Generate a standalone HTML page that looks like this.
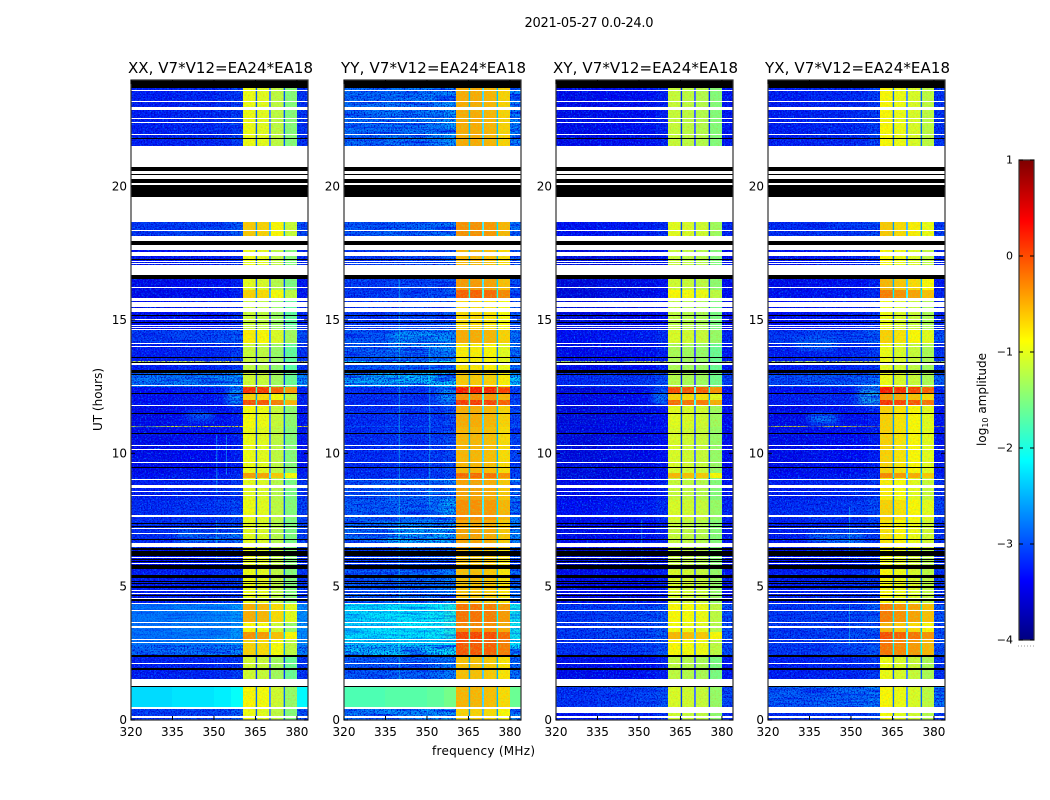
<!DOCTYPE html>
<html lang="en">
<head>
<meta charset="utf-8">
<title>2021-05-27 0.0-24.0</title>
<style>
html,body{margin:0;padding:0;background:#fff;}
#chart{display:block;width:1050px;height:800px;font-family:"DejaVu Sans","Liberation Sans",sans-serif;fill:#000;}
</style>
</head>
<body>
<svg id="chart" xmlns="http://www.w3.org/2000/svg" width="1050" height="800" viewBox="0 0 1050 800">
<defs>
<filter id="speckle-light" x="0" y="0" width="100%" height="100%" color-interpolation-filters="sRGB">
<feTurbulence type="fractalNoise" baseFrequency="0.62" numOctaves="2" seed="4"/>
<feColorMatrix type="matrix" values="0 0 0 0 0  0 0 0 0 0.55  0 0 0 0 1  2.4 0 0 0 -1.15"/>
</filter>
<filter id="speckle-dark" x="0" y="0" width="100%" height="100%" color-interpolation-filters="sRGB">
<feTurbulence type="fractalNoise" baseFrequency="0.7" numOctaves="2" seed="11"/>
<feColorMatrix type="matrix" values="0 0 0 0 0  0 0 0 0 0  0 0 0 0 0.75  0 3 0 0 -1.3"/>
</filter>
<filter id="speckle-streak" x="0" y="0" width="100%" height="100%" color-interpolation-filters="sRGB">
<feTurbulence type="fractalNoise" baseFrequency="0.03 0.55" numOctaves="2" seed="23"/>
<feColorMatrix type="matrix" values="0 0 0 0 0  0 0 0 0 0.1  0 0 0 0 0.95  2.6 0 0 0 -1.2"/>
</filter>
<filter id="speckle-hot" x="0" y="0" width="100%" height="100%" color-interpolation-filters="sRGB">
<feTurbulence type="fractalNoise" baseFrequency="0.6" numOctaves="2" seed="7"/>
<feColorMatrix type="matrix" values="0 0 0 0 1  0 0 0 0 0.5  0 0 0 0 0  2.2 0 0 0 -1.0"/>
</filter>
<filter id="speckle-cool" x="0" y="0" width="100%" height="100%" color-interpolation-filters="sRGB">
<feTurbulence type="fractalNoise" baseFrequency="0.55" numOctaves="2" seed="31"/>
<feColorMatrix type="matrix" values="0 0 0 0 0.45  0 0 0 0 1  0 0 0 0 0.4  0 2.4 0 0 -1.05"/>
</filter>
<filter id="soft-blob" x="-30%" y="-60%" width="160%" height="220%">
<feGaussianBlur stdDeviation="4 3"/>
</filter>
</defs>
<text x="589" y="27" font-size="13" text-anchor="middle" textLength="129">2021-05-27 0.0-24.0</text>
<text x="483.5" y="755" font-size="12" text-anchor="middle" textLength="103">frequency (MHz)</text>
<text transform="translate(102,399.5) rotate(-90)" font-size="12" text-anchor="middle">UT (hours)</text>
<text transform="translate(986,399.5) rotate(-90)" font-size="12" text-anchor="middle">log<tspan font-size="8" dy="2">10</tspan><tspan dy="-2"> amplitude</tspan></text>
<g id="panels"></g>
<g id="colorbar"></g>
</svg>
<script>
/* ---- chart data (hours UT, MHz, log10 amplitude) ---- */
const panelNames = ["XX, V7*V12=EA24*EA18","YY, V7*V12=EA24*EA18","XY, V7*V12=EA24*EA18","YX, V7*V12=EA24*EA18"];
const xTicks = [320,335,350,365,380];
const yTicks = [0,5,10,15,20];
const colorbarTicks = [1,0,-1,-2,-3,-4];

/* time regions: start and end hour, then background and band level for each polarisation */
const regionEnd   = [23.7,18.675,18.075,16.54,16.125,15.825,14.625,14.14,13.48,13.44,13.125,12.49,12.225,12.0,11.81,11.04,10.99,9.26,9.075,8.25,7.5,6.45,5.625,4.39,3.675,3.3,3.0,2.44,1.24,0.45];
const regionStart = [21.525,18.075,17.06,16.125,15.825,14.625,14.14,13.48,13.44,13.125,12.49,12.225,12.0,11.81,11.04,10.99,9.26,9.075,8.25,7.5,6.45,5.625,4.39,3.675,3.3,3.0,2.44,1.5,0.45,0];
const bgXX = [-3.25,-3.05,-3.35,-3.45,-3.45,-3.35,-3.05,-3.25,-1.1,-3.25,-2.7,-3.35,-3.35,-3.35,-3.45,-1.0,-3.45,-3.35,-3.25,-3.15,-3.15,-3.35,-3.25,-2.75,-2.75,-2.75,-2.75,-3.25,-2.3,-3.05];
const bgYY = [-2.75,-2.85,-3.05,-3.05,-3.05,-3.05,-2.85,-2.85,-2.2,-2.85,-2.4,-3.15,-3.15,-3.15,-3.15,-2.9,-3.15,-3.15,-2.85,-2.85,-2.75,-3.05,-2.85,-2.2,-2.2,-2.2,-2.3,-2.85,-1.75,-2.65];
const bgXY = [-3.45,-3.35,-3.55,-3.55,-3.55,-3.55,-3.35,-3.45,-1.2,-3.45,-3.15,-3.55,-3.45,-3.45,-3.55,-3.35,-3.55,-3.55,-3.45,-3.35,-3.45,-3.65,-3.45,-3.05,-3.05,-3.05,-3.1,-3.45,-3.1,-3.35];
const bgYX = [-3.25,-3.15,-3.35,-3.45,-3.35,-3.35,-3.05,-3.25,-1.2,-3.25,-2.95,-3.35,-3.25,-3.25,-3.45,-0.8,-3.45,-3.35,-3.25,-3.15,-3.25,-3.35,-3.25,-3.05,-3.05,-3.05,-3.05,-3.25,-2.85,-3.15];
const hiXX = [-1.05,-0.7,-1.05,-1.1,-0.75,-1.25,-0.9,-1.25,-1.25,-1.3,-1.2,0.1,-0.75,-0.05,-1.0,-1.0,-1.05,-0.45,-1.1,-1.05,-1.1,-1.05,-1.05,-0.55,-0.95,-0.4,-0.75,-1.2,-0.95,-1.05];
const hiYY = [-0.5,-0.35,-0.55,-0.4,-0.1,-0.75,-0.5,-0.85,-0.85,-0.8,-0.65,0.25,-0.35,0.1,-0.5,-0.5,-0.55,-0.15,-0.45,-0.35,-0.45,-0.6,-0.6,-0.2,-0.3,0.05,-0.05,-0.6,-0.55,-0.7];
const hiXY = [-1.25,-1.1,-1.25,-1.2,-0.95,-1.3,-1.15,-1.4,-1.4,-1.4,-1.35,-0.05,-0.75,-0.2,-1.1,-1.1,-1.15,-0.6,-1.25,-1.15,-1.25,-1.25,-1.15,-0.95,-1.0,-0.6,-0.95,-1.3,-1.15,-1.2];
const hiYX = [-0.95,-0.7,-0.95,-0.6,-0.3,-1.05,-0.75,-1.05,-1.05,-1.1,-1.05,0.2,-0.45,0.1,-0.75,-0.75,-0.75,-0.35,-0.9,-0.75,-0.85,-1.0,-0.95,-0.3,-0.6,-0.05,-0.25,-1.05,-0.95,-1.0];

/* frequency segments: edges plus an offset or band index for each */
const freqEdges = [320,335,350,356,360.5,365.1,365.6,370,370.5,375.2,375.7,380,384];
const segmentType = ["bg","bg","bg","bg","hi","gap","hi","gap","hi","gap","hi","edge"];
const bgOffsets = [0,0.05,0.1,0.2];
const hiOffsetsXX = [0.1,0.05,-0.15,-0.45];
const hiOffsetsYY = [0.05,0.05,0,-0.15];
const hiOffsetsXY = [0.1,0.05,0,-0.25];
const hiOffsetsYX = [0.1,0,-0.1,-0.25];

/* narrow-band interference: panel index, frequency, start hour, end hour */
const rfiLines = [[1,340,1.5,16.5],[1,351,8,14],[0,351,8.5,10.7],[0,354.5,9.2,10.7],[0,351,6,7.5],[2,351,6,7.5],[3,349.5,6,8],[3,349.5,2.8,4.4]];

/* brighter patches: panel index, start MHz, end MHz, start hour, end hour, level */
const patchPanel = [0,1,2,3,1,1,0,3,1,3,3,0];
const patchFreqStart = [355,354,355,353,337,355,337,335,335,330,335,340];
const patchFreqEnd = [361,361,361,361,359,361,361,355,358,345,345,350];
const patchHourStart = [11.8,11.9,11.8,11.8,13.9,7.8,6.5,6.5,6.5,13.9,11.1,11.2];
const patchHourEnd = [12.5,12.5,12.5,12.5,14.6,8.3,7.1,7.1,7.3,14.3,11.5,11.6];
const patchLevel = [-2.2,-2.4,-2.5,-2.0,-2.4,-2.2,-2.6,-2.6,-2.3,-2.6,-2.4,-2.7];

/* speckle coverage for each polarisation: start hour, end hour, strength */
const speckleXX = [[4.39,23.7,1],[2.81,4.39,0.45],[1.24,2.81,1],[0,0.45,1]];
const speckleYY = [[4.39,23.7,1],[2.81,4.39,0.45],[1.24,2.81,1],[0,0.45,1]];
const speckleXY = [[0,23.7,1]];
const speckleYX = [[0,23.7,1]];

/* flagged / missing time ranges [start hour, end hour] */
const blackRanges = [[23.7,24],[21.8,21.84],[20.59,20.74],[20.46,20.49],[19.61,20.29],[17.81,17.96],[17.25,17.28],[16.54,16.69],[15.17,15.2],[14.91,14.94],[13.6,13.63],[13.41,13.44],[13.01,13.125],[12.96,12.99],[12.25,12.28],[11.5,11.53],[10.75,10.78],[9.47,9.5],[7.37,7.4],[7.26,7.29],[6.77,6.8],[6.375,6.45],[6.15,6.34],[6.02,6.05],[5.93,5.96],[5.66,5.81],[5.325,5.44],[5.2,5.23],[5.1,5.13],[5.01,5.04],[4.94,4.97],[4.64,4.67],[4.46,4.54],[2.36,2.44],[1.89,1.95],[1.24,1.275]];
const whiteRanges = [[23.59,23.625],[23.175,23.21],[22.875,22.99],[22.54,22.575],[22.39,22.425],[21.94,21.975],[20.74,21.54],[20.29,20.45],[20.49,20.59],[20.08,20.12],[18.675,19.61],[18.32,18.36],[17.96,18.15],[17.625,17.81],[17.4,17.55],[17.175,17.21],[17.1,17.14],[16.69,17.06],[16.2,16.24],[15.71,15.825],[15.49,15.675],[15.3,15.45],[15.0,15.04],[14.79,14.83],[14.7,14.74],[14.625,14.665],[14.11,14.15],[14.0,14.04],[13.33,13.37],[12.51,12.55],[11.79,11.83],[10.3,10.33],[10.15,10.18],[9.66,9.69],[9.02,9.05],[8.7,8.81],[8.54,8.57],[8.39,8.42],[7.63,7.67],[7.15,7.19],[7.0,7.03],[6.49,6.64],[6.1,6.13],[5.87,5.9],[4.86,4.89],[4.75,4.78],[4.56,4.59],[4.37,4.4],[4.11,4.14],[3.66,3.69],[3.51,3.54],[3.44,3.47],[3.02,3.05],[2.91,2.94],[2.09,2.12],[1.275,1.54],[0.43,0.47],[0.075,0.15]];
const crossPolWhiteRanges = [[0.27,0.42]];

/* ---- drawing ---- */
const NS = "http://www.w3.org/2000/svg";
const panelLeft = [131,344,556,768];
const panelWidth = 177;
const plotTop = 80, plotHeight = 640;
const bgSeries = [bgXX,bgYY,bgXY,bgYX];
const hiSeries = [hiXX,hiYY,hiXY,hiYX];
const hiOffsets = [hiOffsetsXX,hiOffsetsYY,hiOffsetsXY,hiOffsetsYX];
const speckleSpans = [speckleXX,speckleYY,speckleXY,speckleYX];

function xScale(p,f){return panelLeft[p]+(f-320)/64*panelWidth;}
function yScale(h){return plotTop+(24-h)/24*plotHeight;}
function jet(v){
  const t=Math.max(0,Math.min(1,(v+4)/5));
  const ch=c=>Math.round(255*Math.max(0,Math.min(1,1.5-Math.abs(4*t-c))));
  return "rgb("+ch(3)+","+ch(2)+","+ch(1)+")";
}
function make(tag,attrs,parent){
  const el=document.createElementNS(NS,tag);
  for(const k in attrs){el.setAttribute(k,attrs[k]);}
  parent.appendChild(el);
  return el;
}
const root=document.getElementById("panels");

panelNames.forEach((name,p)=>{
  const g=make("g",{},root);
  
  

  /* heatmap cells, one pass per group of frequency segments */
  const drawCells=(kinds)=>{
    regionStart.forEach((start,r)=>{
      const end=regionEnd[r];
      segmentType.forEach((kind,s)=>{
        if(!kinds.includes(kind)){return;}
        let v;
        if(kind==="bg"){v=bgSeries[p][r]+bgOffsets[s];}
        else if(kind==="hi"){v=hiSeries[p][r]+hiOffsets[p][(s-4)/2];}
        else if(kind==="gap"){v=hiSeries[p][r]-1.9;}
        else{v=bgSeries[p][r]+0.15;}
        const y0=Math.round(yScale(end)),y1=Math.round(yScale(start));
        let x0,x1,attrs;
        if(kind==="gap"){
          /* thin gaps keep their exact position so each one stays visible */
          x0=xScale(p,freqEdges[s]);x1=xScale(p,freqEdges[s+1]);
          attrs={x:x0,y:y0,width:x1-x0,height:Math.max(1,y1-y0),fill:jet(v)};
        }else{
          x0=Math.round(xScale(p,freqEdges[s]));x1=Math.round(xScale(p,freqEdges[s+1]));
          attrs={x:x0,y:y0,width:Math.max(1,x1-x0),height:Math.max(1,y1-y0),fill:jet(v),"shape-rendering":"crispEdges"};
        }
        const cell=make("rect",attrs,g);
        
        
      });
    });
  };
  drawCells(["bg","edge"]);

  /* broad brighter patches */
  patchPanel.forEach((owner,i)=>{
    if(owner!==p){return;}
    const x0=xScale(p,patchFreqStart[i]),x1=xScale(p,patchFreqEnd[i]);
    const y0=yScale(patchHourEnd[i]),y1=yScale(patchHourStart[i]);
    const patch=make("rect",{x:x0,y:y0,width:x1-x0,height:y1-y0,fill:jet(patchLevel[i]),opacity:0.7,filter:"url(#soft-blob)"},g);
    
    
  });

  /* channel speckle on the out-of-band part of the spectrum */
  speckleSpans[p].forEach(span=>{
    [[320,360.5],[380,384]].forEach(range=>{
      ["speckle-streak","speckle-light","speckle-dark"].forEach(f=>{
        const x0=xScale(p,range[0]),x1=xScale(p,range[1]);
        const sp=make("rect",{x:x0,y:yScale(span[1]),width:x1-x0,height:yScale(span[0])-yScale(span[1]),filter:"url(#"+f+")",opacity:span[2]},g);
        
        
      });
    });
  });

  drawCells(["hi"]);

  /* texture on the four bright columns only */
  segmentType.forEach((kind,s)=>{
    if(kind!=="hi"){return;}
    const x0=xScale(p,freqEdges[s]),x1=xScale(p,freqEdges[s+1]);
    [["speckle-hot",0.35],["speckle-cool",0.4]].forEach(tex=>{
      const hot=make("rect",{x:x0,y:yScale(23.7),width:x1-x0,height:yScale(0)-yScale(23.7),filter:"url(#"+tex[0]+")",opacity:tex[1]},g);
      
      
    });
  });

  drawCells(["gap"]);

  /* narrow-band interference */
  rfiLines.filter(l=>l[0]===p).forEach(l=>{
    const x=xScale(p,l[1]);
    const line=make("line",{x1:x,x2:x,y1:yScale(l[3]),y2:yScale(l[2]),stroke:"#19e6e6","stroke-width":1,opacity:0.45},g);
    
    
  });

  /* flagged rows */
  const addFlag=(range,color,label)=>{
    const y0=Math.round(yScale(range[1])),y1=Math.round(yScale(range[0]));
    const flag=make("rect",{x:panelLeft[p],y:y0,width:panelWidth,height:Math.max(1,y1-y0),fill:color,"shape-rendering":"crispEdges"},g);
    
    
  };
  blackRanges.forEach(r=>addFlag(r,"#000","no-data-row"));
  whiteRanges.forEach(r=>addFlag(r,"#fff","flagged-row"));
  if(p>=2){crossPolWhiteRanges.forEach(r=>addFlag(r,"#fff","flagged-row"));}

  /* frame */
  const frame=make("rect",{x:panelLeft[p],y:plotTop,width:panelWidth,height:plotHeight,fill:"none",stroke:"#333","stroke-width":1.2},g);
  
  

  /* x ticks */
  xTicks.forEach(f=>{
    const x=xScale(p,f);
    [[plotTop+plotHeight,plotTop+plotHeight-4],[plotTop,plotTop+4]].forEach(pair=>{
      const t=make("line",{x1:x,x2:x,y1:pair[0],y2:pair[1],stroke:"#000","stroke-width":1},g);
      
      
    });
    const lab=make("text",{x:x,y:736,"font-size":12,"text-anchor":"middle"},g);
    
    
    lab.textContent=f;
  });

  /* y ticks */
  yTicks.forEach(h=>{
    const y=yScale(h);
    [[panelLeft[p],panelLeft[p]+4],[panelLeft[p]+panelWidth,panelLeft[p]+panelWidth-4]].forEach(pair=>{
      const t=make("line",{x1:pair[0],x2:pair[1],y1:y,y2:y,stroke:"#000","stroke-width":1},g);
      
      
    });
    const lab=make("text",{x:panelLeft[p]-4,y:y+4,"font-size":12,"text-anchor":"end"},g);
    
    
    lab.textContent=h;
  });

  const title=make("text",{x:panelLeft[p]+panelWidth/2+1,y:73,"font-size":15,"text-anchor":"middle",textLength:185},g);
  
  
  title.textContent=name;
});

/* ---- colorbar ---- */
const cb=document.getElementById("colorbar");
const cbLeft=1019,cbWidth=15,cbTop=160,cbHeight=480;
function cbScale(v){return cbTop+(1-v)/5*cbHeight;}
for(let i=0;i<240;i++){
  const v=-4+i*5/240;
  const step=make("rect",{x:cbLeft,y:cbScale(v+5/240),width:cbWidth,height:cbHeight/240+0.5,fill:jet(v+2.5/240),"shape-rendering":"crispEdges"},cb);
  
  
}
const cbFrame=make("rect",{x:cbLeft,y:cbTop,width:cbWidth,height:cbHeight,fill:"none",stroke:"#333","stroke-width":1.2},cb);


colorbarTicks.forEach(v=>{
  const y=cbScale(v);
  [[cbLeft,cbLeft+4],[cbLeft+cbWidth,cbLeft+cbWidth-4]].forEach(pair=>{
    const t=make("line",{x1:pair[0],x2:pair[1],y1:y,y2:y,stroke:"#000","stroke-width":1},cb);
    
    
  });
  const lab=make("text",{x:1013,y:y+3.5,"font-size":11,"text-anchor":"end"},cb);
  
  
  lab.textContent=String(v).replace("-","\u2212");
});
const dots=make("line",{x1:1018,x2:1035,y1:646,y2:646,stroke:"#999","stroke-width":1,"stroke-dasharray":"1 2"},cb);


</script>
</body>
</html>
